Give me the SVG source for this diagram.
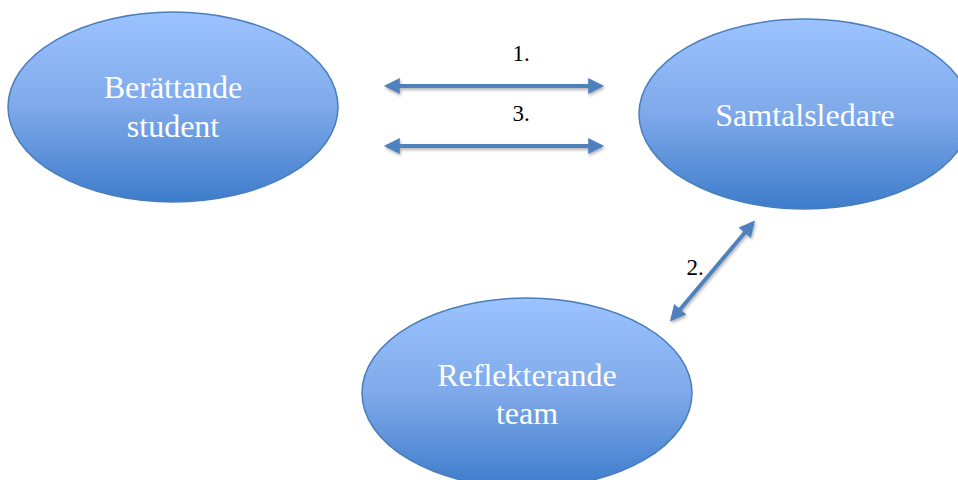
<svg xmlns="http://www.w3.org/2000/svg" width="958" height="480" viewBox="0 0 958 480">
<defs>
<linearGradient id="g" x1="0" y1="0" x2="0" y2="1">
<stop offset="0" stop-color="#9cc3ff"/>
<stop offset="0.5" stop-color="#7fa9ea"/>
<stop offset="1" stop-color="#3d7ccb"/>
</linearGradient>
<marker id="ah" viewBox="0 0 10 10" refX="8" refY="5" markerWidth="5" markerHeight="4" markerUnits="strokeWidth" orient="auto-start-reverse">
<path d="M0,0 L10,5 L0,10 z" fill="#4f81bd"/>
</marker>
<filter id="sh" filterUnits="userSpaceOnUse" x="0" y="0" width="958" height="480">
<feDropShadow dx="1" dy="2" stdDeviation="1.5" flood-color="#000" flood-opacity="0.3"/>
</filter>
</defs>
<g id="beraettande" font-family="Liberation Serif, Times New Roman, serif" font-size="32" fill="#ffffff" text-anchor="middle">
<ellipse cx="173" cy="107" rx="165" ry="95" fill="url(#g)" stroke="#4a7ebb" stroke-width="1.5"/>
<text x="173" y="98">Berättande</text>
<text x="173" y="137">student</text>
</g>
<g id="samtalsledare" font-family="Liberation Serif, Times New Roman, serif" font-size="32" fill="#ffffff" text-anchor="middle">
<ellipse cx="805" cy="114" rx="166" ry="95" fill="url(#g)" stroke="#4a7ebb" stroke-width="1.5"/>
<text x="805" y="126">Samtalsledare</text>
</g>
<g id="reflekterande" font-family="Liberation Serif, Times New Roman, serif" font-size="32" fill="#ffffff" text-anchor="middle">
<ellipse cx="527" cy="393" rx="165" ry="95" fill="url(#g)" stroke="#4a7ebb" stroke-width="1.5"/>
<text x="527" y="386">Reflekterande</text>
<text x="527" y="424">team</text>
</g>
<g id="connectors" stroke="#4f81bd" stroke-width="4" filter="url(#sh)">
<line x1="387" y1="86" x2="601" y2="86" marker-start="url(#ah)" marker-end="url(#ah)"/>
<line x1="387" y1="146" x2="601" y2="146" marker-start="url(#ah)" marker-end="url(#ah)"/>
<line x1="753" y1="223" x2="672" y2="319" marker-start="url(#ah)" marker-end="url(#ah)"/>
</g>
<g id="labels" font-family="Liberation Serif, Times New Roman, serif" font-size="23" fill="#000000" text-anchor="middle">
<text x="521" y="61">1.</text>
<text x="521" y="121">3.</text>
<text x="695" y="275">2.</text>
</g>
</svg>
